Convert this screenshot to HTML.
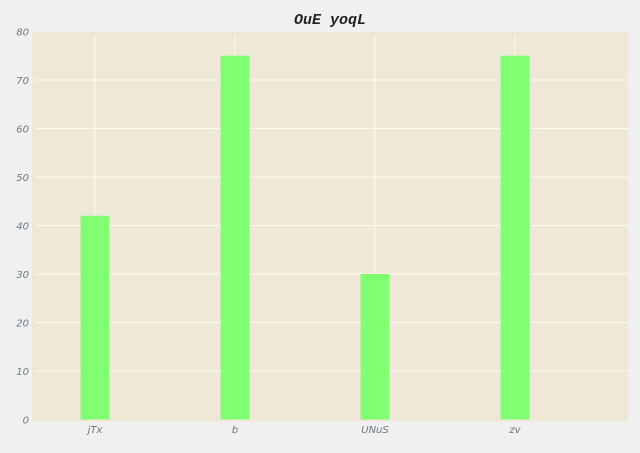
<!DOCTYPE html>
<html><head><meta charset="utf-8"><style>
body{margin:0;background:#f0f0f0;width:640px;height:448px;overflow:hidden}
text{font-family:"DejaVu Sans","Liberation Sans",sans-serif}
</style></head><body>
<svg id="chart" width="640" height="448">
<rect x="0" y="0" width="640" height="448" fill="#f0f0f0"/>
<rect x="32" y="32" width="596" height="389.5" fill="#efe8d6"/>
<text x="330" y="24" text-anchor="middle" font-size="15" font-weight="bold" font-style="italic" fill="#222" style="font-family:'Liberation Mono',monospace">OuE yoqL</text>
<g id="grid"></g><g id="bars"></g><g id="yticks"></g><g id="xticks"></g>
</svg>
<script>
const categories=["jTx","b","UNuS","zv"];
const values=[42,75,30,75];
const yTicks=[0,10,20,30,40,50,60,70,80];
const ns="http://www.w3.org/2000/svg";
function y(v){return 419.5-v*48.5/10;}
function x(i){return 95+i*140;}
function mk(t,a,p){const e=document.createElementNS(ns,t);for(const k in a)e.setAttribute(k,a[k]);document.getElementById(p).appendChild(e);return e;}
yTicks.forEach(t=>{
 if(t>0&&t<80){const l=mk('line',{x1:35,x2:628,y1:y(t),y2:y(t),stroke:'#fffaf0','stroke-width':1},'grid');
 
 }
 const tx=mk('text',{x:29,y:y(t)+4,'text-anchor':'end','font-size':10,'font-style':'italic',fill:'#6a7a84'},'yticks');
 tx.textContent=t;
 
 
});
categories.forEach((c,i)=>{
 const g=mk('line',{x1:x(i),x2:x(i),y1:35,y2:421.5,stroke:'#fffaf0','stroke-width':1},'grid');
 
 
 const b=mk('rect',{x:x(i)-14.5,y:y(values[i]),width:29,height:y(0)-y(values[i]),fill:'#80ff72'},'bars');
 
 
 const t=mk('text',{x:x(i),y:433,'text-anchor':'middle','font-size':10,'font-style':'italic',fill:'#6a7a84'},'xticks');
 t.textContent=c;
 
 
});
</script>
</body></html>
